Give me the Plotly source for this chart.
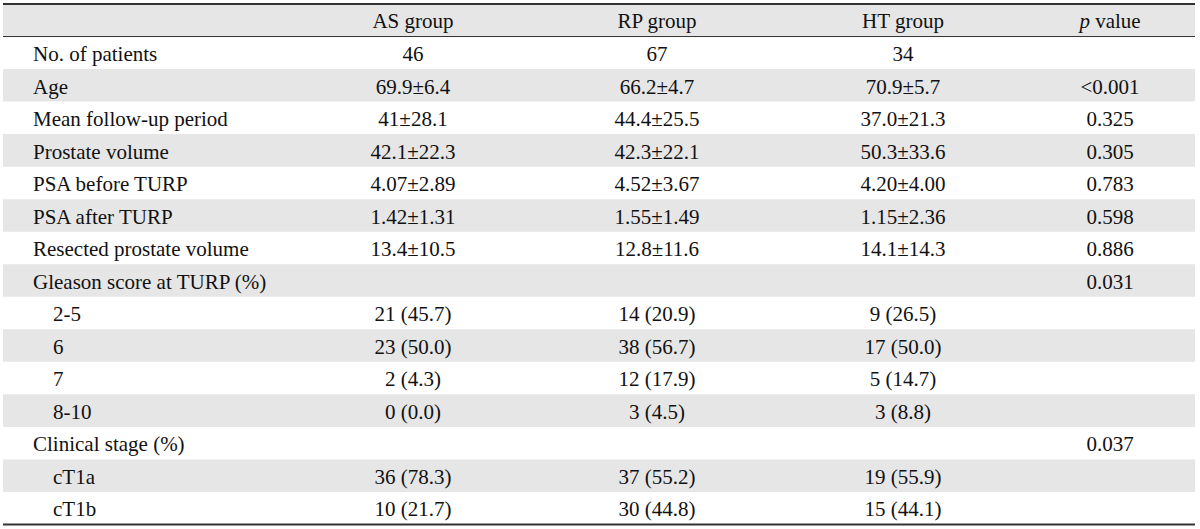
import plotly.graph_objects as go

# ---------------- data ----------------
header = ["", "AS group", "RP group", "HT group", "<i>p</i> value"]

row_labels = [
    "No. of patients", "Age", "Mean follow-up period", "Prostate volume",
    "PSA before TURP", "PSA after TURP", "Resected prostate volume",
    "Gleason score at TURP (%)", "2-5", "6", "7", "8-10",
    "Clinical stage (%)", "cT1a", "cT1b",
]
row_level = [0, 0, 0, 0, 0, 0, 0, 0, 1, 1, 1, 1, 0, 1, 1]

as_group = ["46", "69.9±6.4", "41±28.1", "42.1±22.3", "4.07±2.89", "1.42±1.31",
            "13.4±10.5", "", "21 (45.7)", "23 (50.0)", "2 (4.3)", "0 (0.0)", "",
            "36 (78.3)", "10 (21.7)"]
rp_group = ["67", "66.2±4.7", "44.4±25.5", "42.3±22.1", "4.52±3.67", "1.55±1.49",
            "12.8±11.6", "", "14 (20.9)", "38 (56.7)", "12 (17.9)", "3 (4.5)", "",
            "37 (55.2)", "30 (44.8)"]
ht_group = ["34", "70.9±5.7", "37.0±21.3", "50.3±33.6", "4.20±4.00", "1.15±2.36",
            "14.1±14.3", "", "9 (26.5)", "17 (50.0)", "5 (14.7)", "3 (8.8)", "",
            "19 (55.9)", "15 (44.1)"]
p_value = ["", "<0.001", "0.325", "0.305", "0.783", "0.598", "0.886", "0.031",
           "", "", "", "", "0.037", "", ""]

# ---------------- layout constants ----------------
W, H = 1200, 529
ROW_PX = 32.53
TOP_PX = 4.0
TABLE_X0, TABLE_X1 = 3, 1195
LABEL_X = [33, 53]               # left edge of label text by level
COL_X = [413, 657, 903, 1110]     # centres of the value columns
FONT = dict(family="Liberation Serif, Times New Roman, serif", size=21, color="#111111")
STRIPE = "#e6e6e6"
TEXT_DY = 0.09                    # nudge text downward (row units)

n_rows = len(row_labels)
y0 = -0.5 - TOP_PX / ROW_PX
y1 = y0 + H / ROW_PX


def esc(s):
    return s.replace("<0", "&lt;0")


fig = go.Figure()

# labels
for lvl in (0, 1):
    ys = [i + 1 + TEXT_DY for i in range(n_rows) if row_level[i] == lvl]
    txt = [row_labels[i] for i in range(n_rows) if row_level[i] == lvl]
    fig.add_trace(go.Scatter(
        x=[LABEL_X[lvl]] * len(ys), y=ys, text=txt, mode="text",
        textposition="middle right", textfont=FONT, hoverinfo="skip",
        showlegend=False, cliponaxis=False))

# value columns
for cx, col in zip(COL_X, [as_group, rp_group, ht_group, p_value]):
    fig.add_trace(go.Scatter(
        x=[cx] * n_rows, y=[i + 1 + TEXT_DY for i in range(n_rows)],
        text=[esc(v) for v in col], mode="text", textposition="middle center",
        textfont=FONT, hoverinfo="skip", showlegend=False, cliponaxis=False))

# header
fig.add_trace(go.Scatter(
    x=COL_X, y=[TEXT_DY] * 4, text=header[1:], mode="text",
    textposition="middle center", textfont=FONT, hoverinfo="skip",
    showlegend=False, cliponaxis=False))

shapes = []
# stripes: header + every second data row
stripe_rows = [0] + [r for r in range(1, n_rows + 1) if r % 2 == 0]
for r in stripe_rows:
    shapes.append(dict(type="rect", xref="x", yref="y", x0=TABLE_X0, x1=TABLE_X1,
                       y0=r - 0.5, y1=r + 0.5, fillcolor=STRIPE,
                       line=dict(width=0), layer="below"))
# rules
for yy, w in [(-0.5, 2), (0.5, 1), (n_rows + 0.5, 2)]:
    shapes.append(dict(type="line", xref="x", yref="y", x0=TABLE_X0, x1=TABLE_X1,
                       y0=yy, y1=yy, line=dict(color="#333333", width=w)))

fig.update_layout(
    width=W, height=H,
    margin=dict(l=0, r=0, t=0, b=0),
    paper_bgcolor="white", plot_bgcolor="white",
    xaxis=dict(range=[0, W], visible=False, fixedrange=True),
    yaxis=dict(range=[y1, y0], visible=False, fixedrange=True),
    shapes=shapes,
)

fig.write_html(
    "out.html",
    config={"displayModeBar": False},
    post_script="document.body.style.margin='0';document.body.style.overflow='hidden';",
)
